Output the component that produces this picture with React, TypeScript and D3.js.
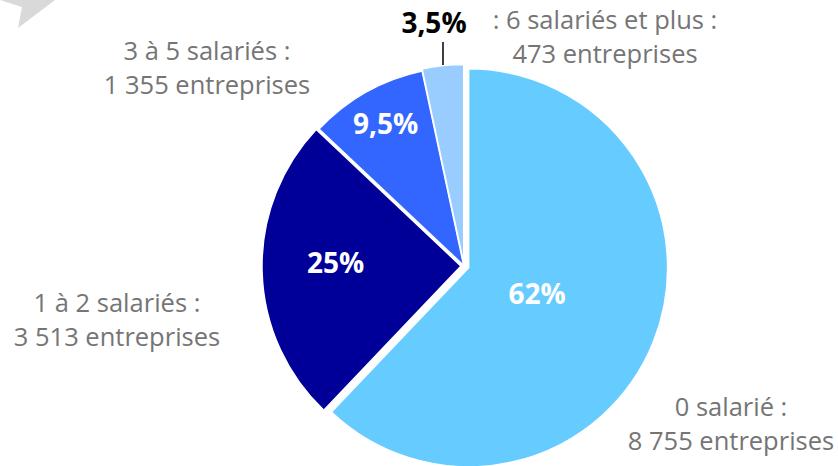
import React from "react";
import * as d3 from "d3";

const categories = ["0 salarié", "1 à 2 salariés", "3 à 5 salariés", "6 salariés et plus"];
const values = [8755, 3513, 1355, 473];
const countLabels = ["8 755", "3 513", "1 355", "473"];
const pctLabels = ["62%", "25%", "9,5%", "3,5%"];
const colors = ["#66CCFF", "#000099", "#3366FF", "#99CCFF"];

const W = 838;
const H = 466;
const CX = 464;
const CY = 266;
const R = 199;
const explode = [5, 3, 0.5, 2.5];
const pctRadius = [0.37, 0.63, 0.8, 0];
const pctNudgeY = [-1, -7, -3, 0];

// category label layout: [centerX, firstBaseline, prefix]
const labelLayout: [number, number, string][] = [
  [731, 416, ""],
  [117, 312, ""],
  [207, 60, ""],
  [605, 29, ": "],
];
const LINE = 34;
const PCT_SIZE = 28;

export default function App() {
  const pie = d3
    .pie<number>()
    .sort(null)
    .value((d) => d)
    .startAngle(0)
    .endAngle(2 * Math.PI);
  const arcs = pie(values);
  const arc = d3.arc<d3.PieArcDatum<number>>().innerRadius(0).outerRadius(R);

  const font = "'Open Sans', 'DejaVu Sans', sans-serif";

  return (
    <div style={{ position: "absolute", left: 0, top: 0, width: W, height: H, background: "#fff" }}>
      <svg width={W} height={H} style={{ display: "block" }}>
        <rect width={W} height={H} fill="#fff" />
        <polygon points="0,0 55,0 18,28 22,7" fill="#D9D9D9" />
        {arcs.map((a, i) => {
          const mid = (a.startAngle + a.endAngle) / 2;
          const dx = Math.sin(mid) * explode[i];
          const dy = -Math.cos(mid) * explode[i];
          return (
            <g key={i} transform={`translate(${CX + dx},${CY + dy})`}>
              <path d={arc(a) || ""} fill={colors[i]} stroke="#fff" strokeWidth={1.5} strokeLinejoin="round" />
            </g>
          );
        })}
        {arcs.map((a, i) => {
          if (i === 3) return null;
          const mid = (a.startAngle + a.endAngle) / 2;
          const rr = R * pctRadius[i] + explode[i];
          const x = CX + Math.sin(mid) * rr;
          const y = CY - Math.cos(mid) * rr + pctNudgeY[i];
          return (
            <text
              key={i}
              x={x}
              y={y + PCT_SIZE * 0.36}
              textAnchor="middle"
              fill="#fff"
              fontFamily={font}
              fontWeight={700}
              fontSize={PCT_SIZE}
            >
              {pctLabels[i]}
            </text>
          );
        })}
        {/* small slice label with leader */}
        <line x1={443} y1={42} x2={443} y2={65} stroke="#000" strokeWidth={1.5} />
        <text x={434} y={33} textAnchor="middle" fill="#000" fontFamily={font} fontWeight={700} fontSize={PCT_SIZE}>
          {pctLabels[3]}
        </text>
        {categories.map((c, i) => {
          const [x, y, prefix] = labelLayout[i];
          return (
            <text key={i} textAnchor="middle" fill="#757575" fontFamily={font} fontSize={25.5}>
              <tspan x={x} y={y}>{`${prefix}${c} :`}</tspan>
              <tspan x={x} y={y + LINE}>{`${countLabels[i]} entreprises`}</tspan>
            </text>
          );
        })}
      </svg>
    </div>
  );
}
